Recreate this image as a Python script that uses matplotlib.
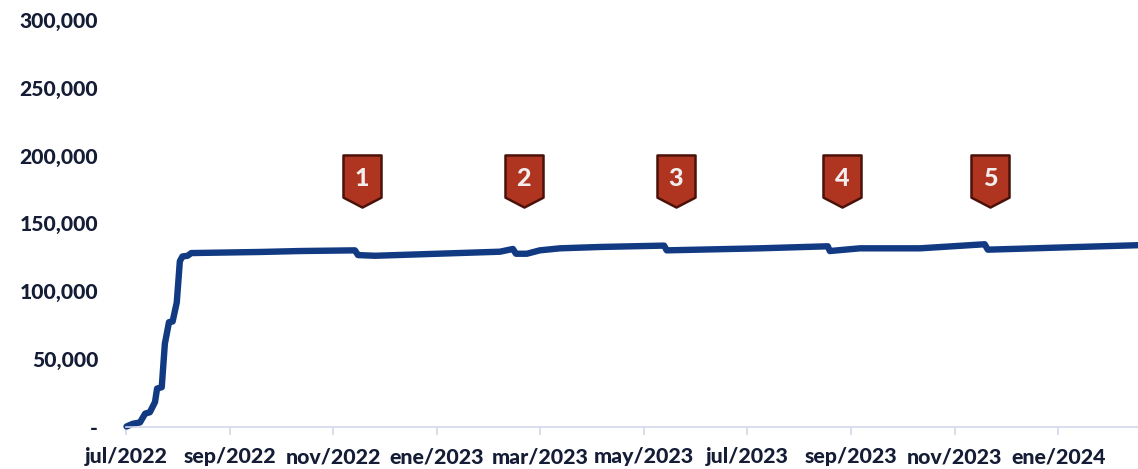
import numpy as np
import matplotlib
matplotlib.use('Agg')
import matplotlib.pyplot as plt
from matplotlib.path import Path

plt.rcParams['font.family'] = ['Lato', 'DejaVu Sans']

# x is in months since jul/2022
months = [0.01, 0.13, 0.27, 0.37, 0.46, 0.56, 0.60, 0.69, 0.75, 0.83, 0.90, 0.98,
          1.04, 1.09, 1.19, 1.26, 2.59, 3.36, 4.42, 4.48, 4.81, 7.22, 7.47, 7.53,
          7.74, 7.99, 8.38, 9.16, 10.39, 10.44, 12.24, 13.55, 13.59, 13.88, 14.17,
          15.33, 16.58, 16.64, 19.54]
values = [0, 2000, 3000, 9500, 10500, 18000, 28000, 29000, 61000, 77000, 77500, 91500,
          122000, 125500, 126000, 128000, 128800, 129500, 130000, 126500, 126000, 129000, 131000, 127500,
          127500, 130000, 131500, 132500, 133500, 130000, 131500, 133000, 129500, 130500, 131500,
          131500, 134500, 130500, 133800]

xtick_labels = ['jul/2022', 'sep/2022', 'nov/2022', 'ene/2023', 'mar/2023',
                'may/2023', 'jul/2023', 'sep/2023', 'nov/2023', 'ene/2024']
xtick_pos = [0, 2, 4, 6, 8, 10, 12, 14, 16, 18]
ytick_pos = [0, 50000, 100000, 150000, 200000, 250000, 300000]
ytick_labels = ['-', '50,000', '100,000', '150,000', '200,000', '250,000', '300,000']

flag_months = [4.56, 7.68, 10.62, 13.83, 16.69]
flag_level = 181300
flag_labels = ['1', '2', '3', '4', '5']

text_col = '#141c36'
line_col = '#123a82'
axis_col = '#d3d7ea'

fig = plt.figure(figsize=(11.38, 4.69), dpi=100)
ax = fig.add_axes([126/1138, 42.5/469, 1012/1138, 406.5/469])

ax.plot(months, values, color=line_col, lw=4.6, solid_joinstyle='round', solid_capstyle='round', clip_on=False)

shield = Path([(-0.73, 1), (0.73, 1), (0.73, -0.62), (0, -1), (-0.73, -0.62), (-0.73, 1)], closed=True)
ax.plot(flag_months, [flag_level]*5, ls='none', marker=shield, ms=37.5,
        mfc='#b03520', mec='#4a120a', mew=1.8)
for m, lab in zip(flag_months, flag_labels):
    ax.annotate(lab, (m, flag_level), xytext=(0, 1.5), textcoords='offset points',
                ha='center', va='center', color='#f2eeee', fontsize=18, fontweight='black')

ax.set_xlim(0, 19.54)
ax.set_ylim(0, 300000)
ax.set_xticks(xtick_pos)
ax.set_xticklabels(xtick_labels)
ax.set_yticks(ytick_pos)
ax.set_yticklabels(ytick_labels)
ax.tick_params(axis='x', length=6, width=1.2, color=axis_col, labelsize=15.4, labelcolor=text_col, pad=9)
ax.tick_params(axis='y', length=0, labelsize=15.2, labelcolor=text_col, pad=20)
for lab in ax.get_xticklabels() + ax.get_yticklabels():
    lab.set_fontweight('black')

for s in ['top', 'right', 'left']:
    ax.spines[s].set_visible(False)
ax.spines['bottom'].set_color(axis_col)
ax.spines['bottom'].set_linewidth(1.2)

fig.savefig('out.png', dpi=100)
